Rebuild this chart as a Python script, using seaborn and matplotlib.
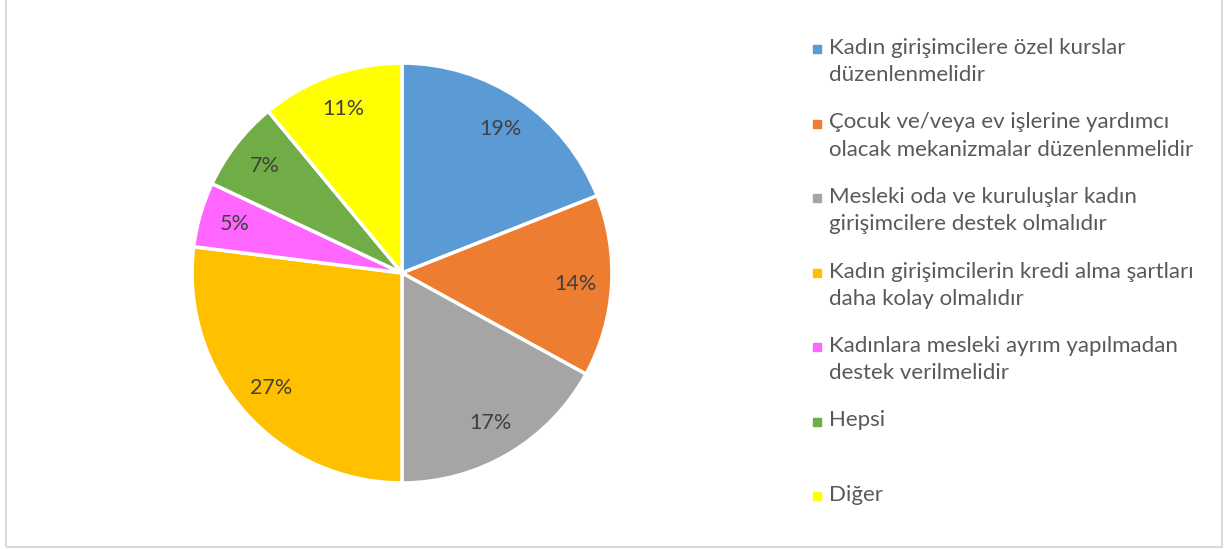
import matplotlib
matplotlib.use('Agg')
import matplotlib.pyplot as plt
from matplotlib.patches import Rectangle
import seaborn as sns

labels = [
    'Kadın girişimcilere özel kurslar\ndüzenlenmelidir',
    'Çocuk ve/veya ev işlerine yardımcı\nolacak mekanizmalar düzenlenmelidir',
    'Mesleki oda ve kuruluşlar kadın\ngirişimcilere destek olmalıdır',
    'Kadın girişimcilerin kredi alma şartları\ndaha kolay olmalıdır',
    'Kadınlara mesleki ayrım yapılmadan\ndestek verilmelidir',
    'Hepsi',
    'Diğer',
]
shares = [19, 14, 17, 27, 5, 7, 11]
colors = ['#5B9BD5', '#ED7D31', '#A5A5A5', '#FFC000', '#FF66FF', '#70AD47', '#FFFF00']


def main():
    sns.set_theme(style='white')
    plt.rcParams['font.family'] = ['Lato', 'DejaVu Sans']

    fig = plt.figure(figsize=(12.26, 5.49), dpi=100)
    ax = fig.add_axes([0.1558, 0.1184, 0.3442, 0.7687])

    wedges, texts, autotexts = ax.pie(
        shares,
        colors=colors,
        startangle=90,
        counterclock=False,
        autopct='%d%%',
        pctdistance=0.83,
        wedgeprops=dict(edgecolor='white', linewidth=2.5),
        textprops=dict(color='#404040', fontsize=15.5),
    )
    ax.set_xlim(-1.005, 1.005)
    ax.set_ylim(-1.005, 1.005)
    ax.set_aspect('equal')

    # legend drawn by hand so the marker sits on the first line like Excel
    x_mark = 813 / 1226
    x_text = 829 / 1226
    step = 74.5 / 549
    top = 1 - 38 / 549
    for i, (label, color) in enumerate(zip(labels, colors)):
        y = top - i * step
        fig.text(x_text, y, label, ha='left', va='top', fontsize=16,
                 color='#595959', linespacing=1.45)
        fig.patches.append(Rectangle((x_mark, y - 15 / 549), 8 / 1226, 8 / 549,
                                     transform=fig.transFigure, color=color))

    # chart area border
    fig.patches.append(Rectangle((6 / 1226, 2 / 549), 1216 / 1226, 1.2,
                                 transform=fig.transFigure, fill=False,
                                 edgecolor='#D9D9D9', linewidth=1.5))

    fig.savefig('out.png', dpi=100)


if __name__ == '__main__':
    main()
